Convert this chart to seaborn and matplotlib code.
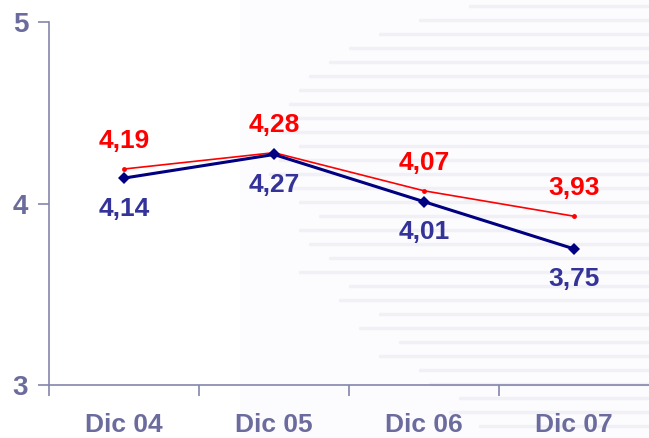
import matplotlib
matplotlib.use("Agg")
import matplotlib.pyplot as plt
import pandas as pd
import seaborn as sns

periods = ["Dic 04", "Dic 05", "Dic 06", "Dic 07"]
red_vals = [4.19, 4.28, 4.07, 3.93]
navy_vals = [4.14, 4.27, 4.01, 3.75]

sns.set_style("white")
plt.rcParams["font.family"] = ["Liberation Sans", "DejaVu Sans"]

df = pd.DataFrame({"periodo": periods, "rojo": red_vals, "azul": navy_vals})

fig = plt.figure(figsize=(6.49, 4.38), dpi=100)
fig.patch.set_facecolor("white")

# faint striped backdrop on the right
fig.add_artist(plt.Rectangle((240 / 649, 0), 1, 1, transform=fig.transFigure,
                             color="#FCFCFE", lw=0, zorder=0))
stripe_starts = [470, 420, 380, 350, 330, 310, 300, 290, 290, 280, 300, 280, 270, 290, 300, 320,
                 300, 310, 330, 300, 350, 340, 380, 360, 400, 380, 420, 430, 460, 450, 480]
for i, xs in enumerate(stripe_starts):
    y = 1 - (6 + i * 14) / 438
    fig.add_artist(plt.Line2D([xs / 649, 1], [y, y], transform=fig.transFigure,
                              color="#F0F0F6", lw=2.5, zorder=0))

ax = fig.add_axes([49 / 649, 53 / 438, 1 - 49 / 649, 363 / 438])
ax.patch.set_alpha(0)

sns.lineplot(data=df, x="periodo", y="rojo", ax=ax, color="#FF0000", lw=1.2,
             marker="o", markersize=3.5, markeredgewidth=0, sort=False)
sns.lineplot(data=df, x="periodo", y="azul", ax=ax, color="#000080", lw=2.2,
             marker="D", markersize=6, markeredgewidth=0, sort=False)

for i, (r, b) in enumerate(zip(red_vals, navy_vals)):
    ax.annotate(f"{r:.2f}".replace(".", ","), (i, r), xytext=(0, 20), textcoords="offset points",
                ha="center", va="center", color="#FF0000", fontsize=19, fontweight="bold")
    ax.annotate(f"{b:.2f}".replace(".", ","), (i, b), xytext=(0, -22), textcoords="offset points",
                ha="center", va="center", color="#333399", fontsize=19, fontweight="bold")

ax.set_ylim(3, 5)
ax.set_xlim(-0.5, 3.5)
ax.set_yticks([3, 4, 5])
ax.set_xticks(range(len(periods)))
ax.set_xticklabels(periods)
ax.set_xticks([-0.5, 0.5, 1.5, 2.5], minor=True)
ax.set_xlabel("")
ax.set_ylabel("")

axis_col = "#8585AD"
label_col = "#6B6B9E"
for side in ["top", "right"]:
    ax.spines[side].set_visible(False)
for side in ["left", "bottom"]:
    ax.spines[side].set_color(axis_col)
    ax.spines[side].set_linewidth(1.2)

ax.tick_params(axis="x", which="major", bottom=True, length=0, pad=20, labelsize=19,
               labelcolor=label_col)
ax.tick_params(axis="x", which="minor", bottom=True, length=8, width=1.2, color=axis_col,
               direction="out")
ax.tick_params(axis="y", left=True, length=8, width=1.2, color=axis_col, direction="out", pad=7,
               labelsize=20, labelcolor=label_col)
for lab in ax.get_xticklabels() + ax.get_yticklabels():
    lab.set_fontweight("bold")

fig.savefig("out.png", dpi=100)
